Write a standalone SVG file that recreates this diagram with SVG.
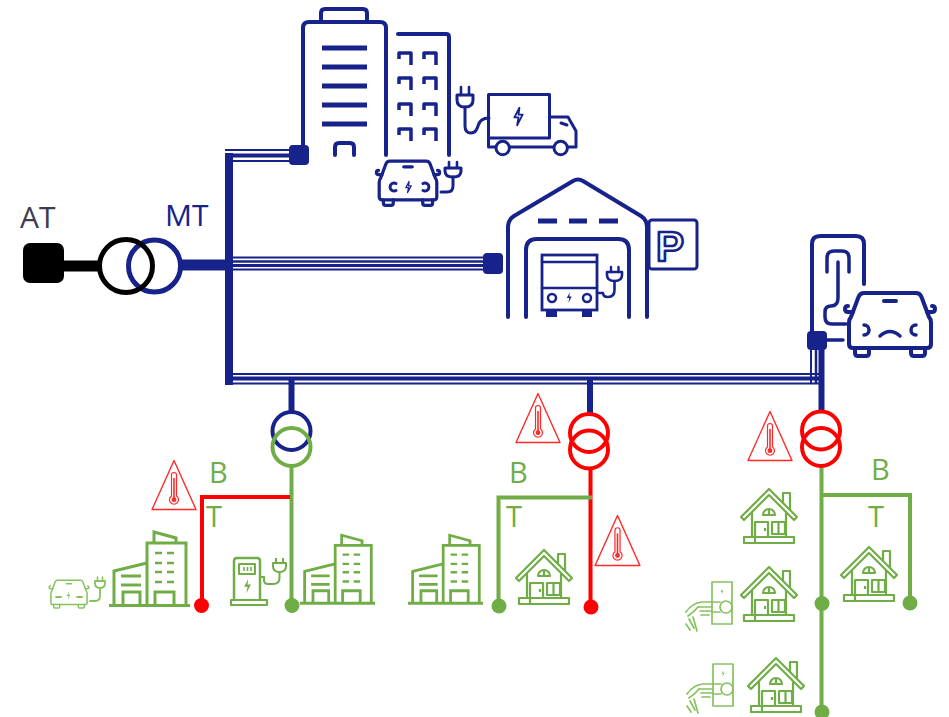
<svg xmlns="http://www.w3.org/2000/svg" width="949" height="717" viewBox="0 0 949 717">
<defs>
<style>
.nv{stroke:#17238a;fill:none;stroke-linecap:round;stroke-linejoin:round}
.gi{stroke:#70ad47;fill:none;stroke-linejoin:round}
.lg{stroke:#86c160;fill:none;stroke-linecap:round;stroke-linejoin:round}
.bus{stroke:#17238a;fill:none}
.gl{stroke:#70ad47;fill:none;stroke-width:4}
.rl{stroke:#ff0000;fill:none;stroke-width:4}
.lbl{font-family:"Open Sans","Liberation Sans",sans-serif;font-size:30px}
.lv{font-family:"Open Sans","Liberation Sans",sans-serif;font-size:29px;fill:#70ad47}
</style>
<symbol id="warn" viewBox="0 0 46 52">
<path d="M23,1.5 L45,50.5 H1 Z" fill="none" stroke="#ff2a2a" stroke-width="1.4" stroke-linejoin="round"/>
<path d="M20.5,37 V16 A2.5,2.5 0 0 1 25.5,16 V37 A4.5,4.5 0 1 1 20.5,37 Z" fill="none" stroke="#ff2a2a" stroke-width="1.2"/>
<path d="M23,19 V39" stroke="#ff2a2a" stroke-width="1.6"/>
<circle cx="23" cy="40.7" r="2.4" fill="#ff2a2a"/>
</symbol>
<symbol id="house" viewBox="0 0 58 58">
<g fill="none" stroke="#70ad47" stroke-width="2.2" stroke-linejoin="round">
<path d="M1,31 L29,3 L57,31 L54,34 L29,9 L4,34 Z"/>
<path d="M43,17 V7 H50 V24"/>
<path d="M12,26 V51 M46,26 V51"/>
<path d="M23,29 A6,6 0 0 1 35,29 Z M29,23 V29"/>
<rect x="15" y="36" width="13" height="15"/>
<path d="M25,42 V45"/>
<rect x="32" y="36" width="13" height="12"/>
<path d="M38.5,36 V48"/>
<rect x="4" y="51" width="50" height="6"/>
<path d="M15,51 V57"/>
</g>
</symbol>
<symbol id="bldg" viewBox="0 0 81 77">
<g fill="none" stroke="#70ad47" stroke-width="3">
<path d="M0,75.5 H81"/>
<path d="M5,75 V41 L38,33"/>
<path d="M38,75 V13 H77 V75"/>
<path d="M45,13 V2 L67,8 V13"/>
<path d="M12,46 H32 M12,55 H32"/>
<path d="M14,75 V62 H31 V75 M46,75 V62 H65 V75"/>
<path d="M46,23 H53 M58,23 H65 M46,33 H53 M58,33 H65 M46,42 H53 M58,42 H65 M46,52 H53 M58,52 H65" stroke-width="2.6"/>
</g>
</symbol>
<symbol id="car" viewBox="0 0 94 68" overflow="visible">
<path d="M21,3 H73 Q77,3 78.5,7 L86,27 Q88,29 88,33 V54 Q88,58 84,58 H10 Q6,58 6,54 V33 Q6,29 8,27 L15.5,7 Q17,3 21,3 Z"/>
<path d="M12,58 V63 Q12,66 15,66 H23 Q26,66 26,63 V58 M68,58 V63 Q68,66 71,66 H79 Q82,66 82,63 V58"/>
<path d="M10,22 H5 Q2,22 2,19 Q2,16 5,16 M84,22 H89 Q92,22 92,19 Q92,16 89,16"/>
<path d="M41,11 H53"/>
</symbol>
<symbol id="bolt" viewBox="0 0 12 20" overflow="visible">
<path d="M7,0.5 L1.5,11 H6 L4.5,19.5 L10.5,8 H6 Z"/>
</symbol>
</defs>

<rect width="949" height="717" fill="#ffffff"/>

<!-- busbars and feeders -->
<g id="connectors">
<path d="M64,266 H99" stroke="#000000" stroke-width="11"/>
<path d="M181,265 H229" stroke="#17238a" stroke-width="11"/>
<rect x="225" y="153" width="8" height="232" fill="#17238a"/>
<g class="bus">
<path d="M225,150 H292" stroke-width="2"/>
<path d="M233,155.5 H292" stroke-width="4"/>
<path d="M233,161 H292" stroke-width="2"/>
<path d="M233,257.5 H487" stroke-width="2"/>
<path d="M233,261.5 H487" stroke-width="2.5"/>
<path d="M233,265.5 H487" stroke-width="3"/>
<path d="M233,269.5 H487" stroke-width="2"/>
<path d="M233,374 H822" stroke-width="2"/>
<path d="M233,378.5 H822" stroke-width="4"/>
<path d="M233,383.5 H822" stroke-width="2"/>
<path d="M811,349 V384" stroke-width="2"/>
<path d="M816,349 V384" stroke-width="2.5"/>
<path d="M821.5,349 V412" stroke-width="6"/>
<path d="M291.5,378 V412" stroke-width="6"/>
<path d="M590,378 V414" stroke-width="6"/>
</g>
<!-- low-voltage feeders -->
<path class="gl" d="M291.5,466 V605"/>
<path class="rl" d="M290,497 H202 V605"/>
<path class="rl" d="M590.5,469 V607"/>
<path class="gl" d="M592,497.5 H498.5 V606"/>
<path class="gl" d="M821.5,466 V712"/>
<path class="gl" d="M821.5,495 H910 V603"/>
<circle cx="292" cy="605.5" r="7.5" fill="#70ad47"/>
<circle cx="201.5" cy="605.5" r="7.5" fill="#ff0000"/>
<circle cx="591" cy="607" r="7.5" fill="#ff0000"/>
<circle cx="499" cy="606" r="7.5" fill="#70ad47"/>
<circle cx="822" cy="603.5" r="7.5" fill="#70ad47"/>
<circle cx="910" cy="603" r="7.5" fill="#70ad47"/>
<circle cx="822" cy="712" r="7.5" fill="#70ad47"/>
</g>

<!-- HV source and main transformer -->
<g id="source-at">
<rect x="23" y="243" width="41" height="40" rx="7" fill="#000000"/>
<text class="lbl" x="20" y="228" fill="#3c3c50">AT</text>
</g>
<g id="transformer-main">
<circle cx="154.5" cy="266" r="26" fill="none" stroke="#17238a" stroke-width="5"/>
<circle cx="126" cy="266" r="26.5" fill="none" stroke="#000000" stroke-width="5"/>
<text class="lbl" x="165" y="226" fill="#17238a">MT</text>
</g>

<!-- office buildings -->
<g id="office" class="nv" stroke-width="4">
<path d="M303,146 V28 Q303,22 309,22 H380 Q386,22 386,28 V155"/>
<path d="M321,22 V13 Q321,9 325,9 H363 Q367,9 367,13 V22"/>
<path d="M322,48 H367 M322,67 H367 M322,86 H367 M322,105 H367 M322,124 H367" stroke-width="5" stroke-linecap="butt"/>
<path d="M335,155 V147 Q335,143 339,143 H350 Q354,143 354,147 V155"/>
<path d="M398,34 H446 Q449,34 449,37 V155"/>
<path d="M399,59 V53 H411 V65 M424,59 V53 H436 V65 M399,84 V78 H411 V90 M424,84 V78 H436 V90 M399,110 V104 H411 V116 M424,110 V104 H436 V116 M399,135 V129 H411 V141 M424,135 V129 H436 V141" stroke-width="3.5" stroke-linecap="butt"/>
<rect x="289" y="145" width="20" height="20" rx="4" fill="#17238a" stroke="none"/>
</g>

<!-- electric delivery truck -->
<g id="truck" class="nv" stroke-width="3">
<path d="M461,87 V95 M469,87 V95" stroke-width="2.6"/>
<path d="M457,95 H473 V100 Q473,107 465,107 Q457,107 457,100 Z"/>
<path d="M465,107 V126 Q465,133 471,133 Q476,133 478,126 Q480,118 489,118"/>
<rect x="488.5" y="94.5" width="61" height="43.5"/>
<path d="M488.5,138 V147 H495 M510,147 H553 M568,147 H576 V131 L568,117 H549.5"/>
<path d="M561,123 L567,125"/>
<circle cx="502.7" cy="148" r="6.7"/>
<circle cx="560.7" cy="148" r="6.7"/>
<use href="#bolt" x="513" y="107" width="11" height="19" stroke="#17238a" stroke-width="2" fill="none"/>
</g>

<!-- electric car at the office -->
<g id="car-office" class="nv">
<use href="#car" x="375" y="159" width="66" height="48" stroke="#17238a" stroke-width="4.6" fill="none" stroke-linecap="round" stroke-linejoin="round"/>
<path d="M396,183.5 A4,4 0 1 0 396,190.5 M423,183.5 A4,4 0 1 1 423,190.5" stroke-width="3"/>
<use href="#bolt" x="405" y="181" width="7" height="12" stroke="#17238a" stroke-width="2.2" fill="none"/>
<path d="M449,162 V168 M457,162 V168" stroke-width="2.6"/>
<path d="M445,168 H461 V171 Q461,177 453,177 Q445,177 445,171 Z" stroke-width="3"/>
<path d="M453,177 V186 Q453,192 447,192 H441" stroke-width="3"/>
</g>

<!-- bus depot with parking -->
<g id="depot" class="nv" stroke-width="4">
<path d="M508,317 V227 Q508,220 514,216 L573,181 Q578,178 583,181 L641,216 Q647,220 647,227 V317"/>
<path d="M538,221 H557 M569,221 H587 M599,221 H618" stroke-width="5" stroke-linecap="butt"/>
<path d="M526,317 V250 Q526,239 537,239 H618 Q629,239 629,250 V317"/>
<rect x="542" y="255" width="55" height="55" stroke-width="2.8" stroke-linejoin="miter"/>
<path d="M542,262 H597 M542,288 H597" stroke-width="2.5"/>
<circle cx="552" cy="298" r="4" stroke-width="2.5"/>
<circle cx="587" cy="298" r="4" stroke-width="2.5"/>
<use href="#bolt" x="566" y="292" width="6.5" height="11" fill="#17238a" stroke="none"/>
<rect x="546" y="310" width="11" height="7" fill="#17238a" stroke="none"/>
<rect x="582" y="310" width="10" height="7" fill="#17238a" stroke="none"/>
<path d="M611,267 V272 M618.5,267 V272" stroke-width="2.4"/>
<path d="M607,272 H622 V275 Q622,281 614.5,281 Q607,281 607,275 Z" stroke-width="2.6"/>
<path d="M614.5,281 V290 Q614.5,297 608,297 Q603,297 603,293 H597" stroke-width="2.6"/>
<rect x="649" y="220" width="48" height="49" rx="3" stroke-width="3"/>
<text x="656" y="261" font-family="'Liberation Sans',Arial,sans-serif" font-weight="bold" font-size="42" fill="#ffffff" stroke="#17238a" stroke-width="2.6" stroke-linejoin="round">P</text>
<rect x="483" y="253" width="20" height="21" rx="4" fill="#17238a" stroke="none"/>
</g>

<!-- roadside charging point with car -->
<g id="charging-point" class="nv" stroke-width="4">
<path d="M812,333 V244 Q812,236 820,236 H856 Q864,236 864,244 V284"/>
<path d="M827,272 V258 Q827,251 834,251 H842 Q849,251 849,258 V272" stroke-width="3.5"/>
<path d="M838,262 V298 Q838,306 831,306 Q825,306 825,312 V317 Q825,324 832,324 H846" stroke-width="3.5"/>
<path d="M827,340 H843" stroke-width="3.5"/>
<rect x="807" y="331" width="20" height="19" rx="4" fill="#17238a" stroke="none"/>
<use href="#car" x="843" y="290" width="94" height="68" stroke="#17238a" stroke-width="4" fill="none" stroke-linecap="round" stroke-linejoin="round"/>
<path d="M864,325 A5,5 0 1 1 864,335 M916,325 A5,5 0 1 0 916,335" stroke-width="3.5"/>
<path d="M880,336 Q890,327 900,336" stroke-width="3.5"/>
</g>

<!-- medium/low voltage transformers -->
<g id="transformer-1" fill="none" stroke-width="4">
<circle cx="291.5" cy="431" r="19" stroke="#17238a"/>
<circle cx="291.5" cy="447" r="19" stroke="#70ad47"/>
</g>
<g id="transformer-2" fill="none" stroke="#ff0000" stroke-width="4">
<circle cx="589" cy="433" r="19" stroke="#ff0000"/>
<circle cx="589" cy="449.5" r="19"/>
</g>
<g id="transformer-3" fill="none" stroke="#ff0000" stroke-width="4">
<circle cx="821" cy="430.5" r="19"/>
<circle cx="821" cy="447" r="19"/>
</g>

<!-- voltage labels -->
<g id="labels">
<text class="lv" x="209" y="483">B</text>
<text class="lv" x="206" y="527">T</text>
<text class="lv" x="509" y="483">B</text>
<text class="lv" x="506" y="527">T</text>
<text class="lv" x="871" y="480">B</text>
<text class="lv" x="868" y="527">T</text>
</g>

<!-- overheating alerts -->
<g id="alerts">
<use href="#warn" x="151" y="459" width="46" height="52"/>
<use href="#warn" x="515" y="392" width="46" height="52"/>
<use href="#warn" x="594" y="514" width="47" height="53"/>
<use href="#warn" x="747" y="410" width="46" height="52"/>
</g>

<!-- consumers on feeder 1 -->
<g id="ev-small" class="lg">
<use href="#car" x="48" y="579" width="42" height="30" stroke="#86c160" stroke-width="3.4" fill="none" stroke-linecap="round" stroke-linejoin="round"/>
<path d="M56,597 H61 M77,597 H82" stroke-width="1.8"/>
<use href="#bolt" x="66" y="591" width="5" height="9" fill="#86c160" stroke="none"/>
<path d="M97.5,577 V581 M102.5,577 V581" stroke-width="1.6"/>
<path d="M95,581 H105 V583 Q105,588 100,588 Q95,588 95,583 Z" stroke-width="1.8"/>
<path d="M100,588 V596 Q100,601 95,601 H90" stroke-width="1.8"/>
</g>
<g id="buildings-1">
<use href="#bldg" x="109" y="530" width="81" height="77"/>
</g>
<g id="charging-station" class="gi" stroke-width="2.5">
<path d="M234,601 V561 Q234,558 237,558 H257 Q260,558 260,561 V601"/>
<rect x="231" y="600" width="36" height="5" stroke-width="2.2"/>
<rect x="239" y="564" width="16" height="10" stroke-width="2"/>
<path d="M244,567 V571 M247.5,567 V571 M251,567 V571" stroke-width="1.6"/>
<use href="#bolt" x="243" y="578" width="9" height="16" fill="#70ad47" stroke="none"/>
<path d="M276,558 V563 M283,558 V563" stroke-width="2"/>
<path d="M273,563 H286 V566 Q286,572 279.5,572 Q273,572 273,566 Z" stroke-width="2"/>
<path d="M279.5,572 V578 Q279.5,584 273,584 H268 Q264,584 264,580 V577 H260" stroke-width="2"/>
</g>
<g id="buildings-2">
<use href="#bldg" x="300" y="531" width="75" height="76"/>
</g>

<!-- consumers on feeder 2 -->
<g id="buildings-3">
<use href="#bldg" x="408" y="531" width="75" height="76"/>
</g>
<g id="house-2">
<use href="#house" x="515" y="547" width="58" height="58"/>
</g>

<!-- consumers on feeder 3 -->
<g id="house-3a"><use href="#house" x="740" y="486" width="58" height="58"/></g>
<g id="house-3b"><use href="#house" x="740" y="564" width="58" height="58"/></g>
<g id="house-3c"><use href="#house" x="747" y="655" width="58" height="58"/></g>
<g id="house-3d"><use href="#house" x="840" y="544" width="58" height="58"/></g>

<!-- home wall chargers -->
<g id="wallbox-1" class="lg" stroke-width="1.7">
<rect x="712" y="582" width="20" height="42"/>
<use href="#bolt" x="720" y="588" width="4" height="7" fill="#86c160" stroke="none"/>
<circle cx="726" cy="607" r="6"/>
<path d="M712,602 H720 M712,612 H720"/>
<path d="M686,612 Q692,603 702,602 H712"/>
<path d="M698,607 H712 M700,611 H711 M701,615 H709"/>
<path d="M688,616 Q694,612 698,607"/>
<path d="M689,619 L694,628 M693,617 L697,631 M686,624 L690,630"/>
</g>
<g id="wallbox-2" class="lg" stroke-width="1.7" transform="translate(1,82)">
<rect x="712" y="582" width="20" height="42"/>
<use href="#bolt" x="720" y="588" width="4" height="7" fill="#86c160" stroke="none"/>
<circle cx="726" cy="607" r="6"/>
<path d="M712,602 H720 M712,612 H720"/>
<path d="M686,612 Q692,603 702,602 H712"/>
<path d="M698,607 H712 M700,611 H711 M701,615 H709"/>
<path d="M688,616 Q694,612 698,607"/>
<path d="M689,619 L694,628 M693,617 L697,631 M686,624 L690,630"/>
</g>
</svg>
